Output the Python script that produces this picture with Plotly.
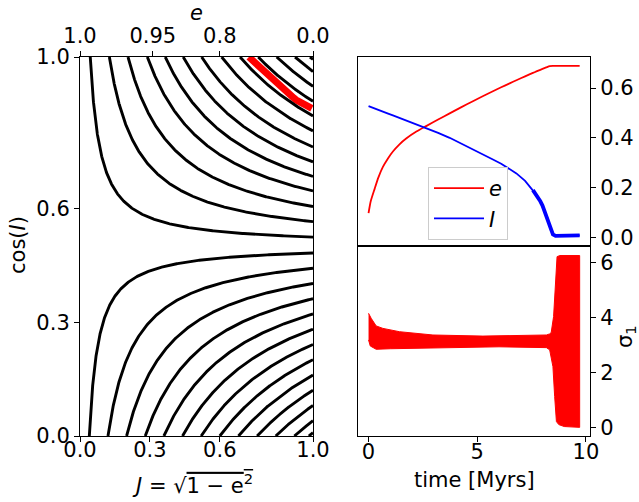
import numpy as np
import plotly.graph_objects as go

# ---------------- data ----------------
# left panel: level curves of J*(cos I - c) = const, given by their intercepts
sep_cos = 0.503                         # separatrix level of cos(I)
J_bottom = [0.04, 0.12, 0.20, 0.28, 0.36, 0.44, 0.52, 0.60, 0.68, 0.76, 0.84, 0.92, 0.982]   # cos I = 0
J_top = [0.044, 0.126, 0.206, 0.289, 0.366, 0.443, 0.522, 0.608, 0.687, 0.765, 0.844, 0.923, 0.987]  # cos I = 1

left_ticks = [0.0, 0.3, 0.6, 1.0]
left_tick_text = ["0.0", "0.3", "0.6", "1.0"]
e_ticks = [1.0, 0.95, 0.8, 0.0]
e_tick_text = ["1.0", "0.95", "0.8", "0.0"]

# right top panel: e(t) and I(t)
t_vals = [0.0, 0.10, 0.28, 0.45, 0.66, 0.90, 1.12, 1.40, 1.73, 2.20, 2.65, 3.20, 3.73, 4.25, 4.80, 5.25, 5.72,
          6.10, 6.49, 6.80, 7.20, 7.56, 7.72, 7.90, 8.00, 8.17, 8.33, 8.48, 8.60, 9.00, 9.71]
e_vals = [0.0975, 0.145, 0.195, 0.240, 0.283, 0.318, 0.345, 0.372, 0.397, 0.425, 0.447, 0.4733, 0.4982, 0.5221,
          0.5469, 0.5667, 0.5869, 0.6028, 0.6188, 0.6312, 0.6468, 0.6605, 0.6665, 0.6730, 0.6766, 0.6825, 0.688,
          0.689, 0.689, 0.689, 0.689]
I_vals = [0.527, 0.524, 0.518, 0.512, 0.505, 0.497, 0.490, 0.481, 0.470, 0.455, 0.440, 0.420, 0.400, 0.378,
          0.355, 0.335, 0.313, 0.296, 0.276, 0.257, 0.227, 0.190, 0.171, 0.145, 0.128, 0.088, 0.045, 0.012,
          0.006, 0.008, 0.008]

# right bottom panel: envelope of the oscillating sigma_1
sig_t_up = [0.0, 0.12, 0.35, 0.66, 1.42, 2.96, 5.26, 8.18, 8.33, 8.40, 8.51, 8.60, 8.67, 8.80, 9.71]
sig_up = [4.15, 3.97, 3.69, 3.60, 3.48, 3.36, 3.32, 3.36, 3.40, 3.45, 4.03, 5.36, 6.21, 6.25, 6.25]
sig_t_lo = [0.0, 0.08, 0.35, 1.0, 3.0, 6.0, 8.18, 8.33, 8.48, 8.56, 8.64, 8.75, 9.0, 9.4, 9.71]
sig_lo = [3.18, 2.96, 2.84, 2.86, 2.90, 2.93, 2.90, 2.82, 2.21, 1.12, 0.21, 0.10, 0.03, 0.02, 0.0]

right_top_ticks = [0.0, 0.2, 0.4, 0.6]
right_top_text = ["0.0", "0.2", "0.4", "0.6"]
right_bot_ticks = [0, 2, 4, 6]
time_ticks = [0, 5, 10]

# ---------------- figure ----------------
W, H = 639, 502
FONT = "DejaVu Sans"
FS = 21

def px(x):
    return x / W

def py(y):
    return 1 - y / H

fig = go.Figure()

# black level curves (lower family then upper family)
for j0 in J_bottom:
    J = np.geomspace(j0, 1.0, 400)
    k = sep_cos * j0
    fig.add_trace(go.Scatter(x=J, y=sep_cos - k / J, mode="lines",
                             line=dict(color="black", width=2.9),
                             showlegend=False, hoverinfo="skip",
                             xaxis="x", yaxis="y"))
for j0 in J_top:
    J = np.geomspace(j0, 1.0, 400)
    k = (1 - sep_cos) * j0
    fig.add_trace(go.Scatter(x=J, y=sep_cos + k / J, mode="lines",
                             line=dict(color="black", width=2.9),
                             showlegend=False, hoverinfo="skip",
                             xaxis="x2", yaxis="y"))

# red trajectory in (J, cos I)
e_arr = np.array(e_vals)
I_arr = np.array(I_vals)
fig.add_trace(go.Scatter(x=np.sqrt(1 - e_arr ** 2), y=np.cos(I_arr), mode="lines",
                         line=dict(color="red", width=7),
                         showlegend=False, hoverinfo="skip",
                         xaxis="x", yaxis="y"))

# right top: e and I
fig.add_trace(go.Scatter(x=t_vals, y=e_vals, mode="lines", name="<i>e</i>",
                         line=dict(color="red", width=1.8, shape="spline", smoothing=0.6),
                         xaxis="x3", yaxis="y3"))
fig.add_trace(go.Scatter(x=t_vals, y=I_vals, mode="lines", name="<i>I</i>",
                         line=dict(color="blue", width=1.8),
                         xaxis="x3", yaxis="y3"))
i0 = t_vals.index(7.56)
fig.add_trace(go.Scatter(x=t_vals[i0:], y=I_vals[i0:], mode="lines",
                         line=dict(color="blue", width=3.8),
                         showlegend=False, hoverinfo="skip",
                         xaxis="x3", yaxis="y3"))

# right bottom: sigma_1 band
fig.add_trace(go.Scatter(x=sig_t_up + sig_t_lo[::-1], y=sig_up + sig_lo[::-1],
                         mode="lines", fill="toself", fillcolor="red",
                         line=dict(color="red", width=1),
                         showlegend=False, hoverinfo="skip",
                         xaxis="x4", yaxis="y4"))

axis_common = dict(showgrid=False, zeroline=False, showline=True, linecolor="black",
                   linewidth=1.1, ticks="outside", ticklen=5, tickwidth=1.1,
                   tickcolor="black", automargin=False,
                   tickfont=dict(family=FONT, size=FS, color="black"))

L_x = [px(80), px(313)]
L_y = [py(436), py(57)]
R_x = [px(358), px(590)]
RT_y = [py(246), py(57)]
RB_y = [py(436), py(246)]

fig.update_layout(
    width=W, height=H,
    margin=dict(l=0, r=0, t=0, b=0, pad=0),
    paper_bgcolor="white", plot_bgcolor="white",
    font=dict(family=FONT, size=FS, color="black"),
    xaxis=dict(domain=L_x, range=[0, 1], anchor="y", mirror=True, ticklabelstandoff=-10,
               tickvals=left_ticks, ticktext=left_tick_text, **axis_common),
    xaxis2=dict(domain=L_x, range=[0, 1], anchor="y", overlaying="x", side="top",
                tickvals=[float(np.sqrt(1 - v ** 2)) for v in e_ticks],
                ticktext=e_tick_text, **axis_common),
    yaxis=dict(domain=L_y, range=[0, 1], anchor="x", mirror=True,
               tickvals=left_ticks, ticktext=left_tick_text, **axis_common),
    xaxis3=dict(domain=R_x, range=[-0.485, 10.185], anchor="y3", mirror=True,
                showticklabels=False, **{**axis_common, "ticks": ""}),
    yaxis3=dict(domain=RT_y, range=[-0.0345, 0.7245], anchor="x3", side="right",
                mirror=True, tickvals=right_top_ticks, ticktext=right_top_text,
                **axis_common),
    xaxis4=dict(domain=R_x, range=[-0.485, 10.185], anchor="y4", mirror=True,
                ticklabelstandoff=-8, tickvals=time_ticks, **axis_common),
    yaxis4=dict(domain=RB_y, range=[-0.314, 6.597], anchor="x4", side="right",
                mirror=True, tickvals=right_bot_ticks, **axis_common),
    legend=dict(x=px(428), y=py(167), xanchor="left", yanchor="top",
                bgcolor="rgba(255,255,255,0.8)", bordercolor="#cccccc", borderwidth=1,
                itemwidth=50, entrywidth=50,
                font=dict(family=FONT, size=FS, color="black")),
    showlegend=True,
)

annots = [
    dict(text="<i>e</i>", x=px(196), y=py(13)),
    dict(text="cos(<i>I</i>)", x=px(18), y=py(245), textangle=-90),
    dict(text='<i>J</i> = √<span style="text-decoration:overline">1 − e<sup>2</sup></span>',
         x=px(193), y=py(484)),
    dict(text="time [Myrs]", x=px(474), y=py(480)),
    dict(text="σ<sub>1</sub>", x=px(626), y=py(337), textangle=-90),
]
for a in annots:
    fig.add_annotation(xref="paper", yref="paper", showarrow=False,
                       xanchor="center", yanchor="middle",
                       font=dict(family=FONT, size=FS, color="black"), **a)

fig.write_html("out.html", config={"displayModeBar": False},
               post_script="document.body.style.margin='0px';")
